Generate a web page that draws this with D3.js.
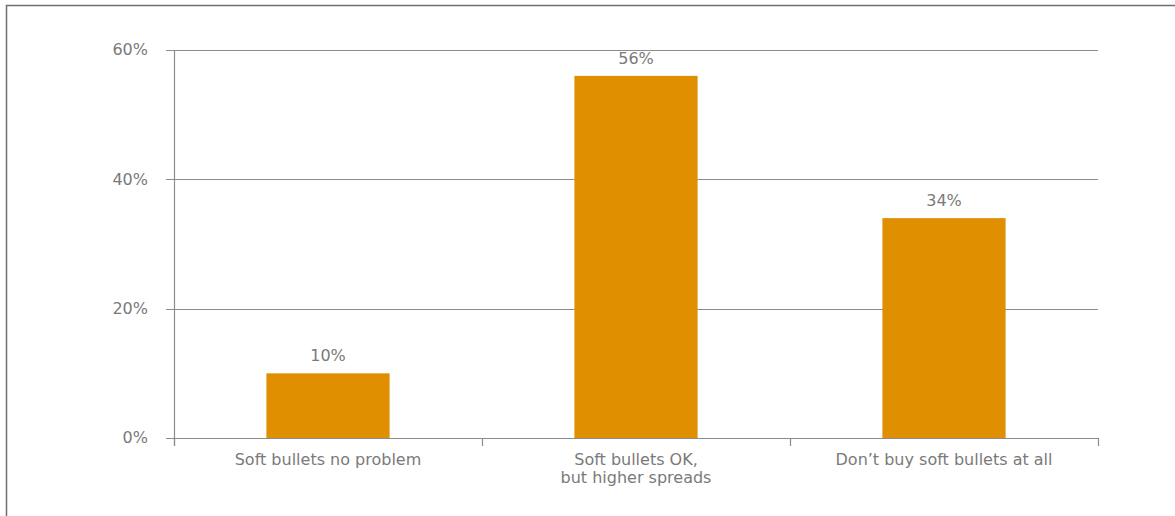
<!DOCTYPE html>
<html>
<head>
<meta charset="utf-8">
<script src="https://cdn.jsdelivr.net/npm/d3@7"></script>
<style>
html,body{margin:0;padding:0;background:#fff;}
svg{display:block;}
text{font-family:"DejaVu Sans",Verdana,sans-serif;fill:#7a7a7a;}
</style>
</head>
<body>
<script>
const categories = ["Soft bullets no problem", "Soft bullets OK,\nbut higher spreads", "Don\u2019t buy soft bullets at all"];
const values = [10, 56, 34];
const yTicks = [0, 20, 40, 60];

const W = 1175, H = 516;
const margin = {left: 174, right: 77, top: 50, bottom: 78};
const svg = d3.select("body").append("svg").attr("width", W).attr("height", H);

// outer frame
svg.append("rect").attr("x", 6.5).attr("y", 5.5).attr("width", W + 20).attr("height", H + 20)
  .attr("fill", "none").attr("stroke", "#6e6e6e").attr("stroke-width", 1.5);

const x = d3.scaleBand().domain(categories).range([margin.left, W - margin.right]).padding(0);
const y = d3.scaleLinear().domain([0, 60]).range([H - margin.bottom, margin.top]);

const fs = 16;

// gridlines
svg.append("g").selectAll("line").data(yTicks).join("line")
  .attr("x1", margin.left - 8).attr("x2", W - margin.right)
  .attr("y1", d => Math.round(y(d)) + 0.5).attr("y2", d => Math.round(y(d)) + 0.5)
  .attr("stroke", "#8c8c8c").attr("stroke-width", 1.2);

// y labels
svg.append("g").selectAll("text").data(yTicks).join("text")
  .attr("x", margin.left - 26).attr("y", d => y(d)).attr("dy", "0.33em")
  .attr("text-anchor", "end").style("font-size", fs + "px")
  .text(d => d + "%");

// y axis line
svg.append("line").attr("x1", margin.left + 0.5).attr("x2", margin.left + 0.5)
  .attr("y1", y(60)).attr("y2", y(0) + 8).attr("stroke", "#8c8c8c").attr("stroke-width", 1.2);

// x ticks
const edges = categories.map(c => x(c)).concat([x(categories[categories.length - 1]) + x.bandwidth()]);
svg.append("g").selectAll("line").data(edges).join("line")
  .attr("x1", d => Math.round(d) + 0.5).attr("x2", d => Math.round(d) + 0.5)
  .attr("y1", y(0)).attr("y2", y(0) + 8).attr("stroke", "#8c8c8c").attr("stroke-width", 1.2);

// bars
const bw = x.bandwidth() * 0.4;
svg.append("g").selectAll("rect").data(values).join("rect")
  .attr("x", (d, i) => x(categories[i]) + (x.bandwidth() - bw) / 2)
  .attr("width", bw)
  .attr("y", d => y(d)).attr("height", d => y(0) - y(d))
  .attr("fill", "#e08f00");

// redraw baseline above bars
svg.append("line").attr("x1", margin.left).attr("x2", W - margin.right)
  .attr("y1", Math.round(y(0)) + 0.5).attr("y2", Math.round(y(0)) + 0.5)
  .attr("stroke", "#8c8c8c").attr("stroke-width", 1.2);

// value labels
svg.append("g").selectAll("text").data(values).join("text")
  .attr("x", (d, i) => x(categories[i]) + x.bandwidth() / 2)
  .attr("y", d => y(d) - 12)
  .attr("text-anchor", "middle").style("font-size", fs + "px")
  .text(d => d + "%");

// category labels
const cl = svg.append("g").selectAll("text").data(categories).join("text")
  .attr("x", d => x(d) + x.bandwidth() / 2)
  .attr("y", y(0) + 27)
  .attr("text-anchor", "middle").style("font-size", fs + "px");
cl.each(function(d) {
  const t = d3.select(this);
  d.split("\n").forEach((line, i) => {
    t.append("tspan").attr("x", x(d) + x.bandwidth() / 2).attr("dy", i === 0 ? 0 : 18).text(line);
  });
});
</script>
</body>
</html>
